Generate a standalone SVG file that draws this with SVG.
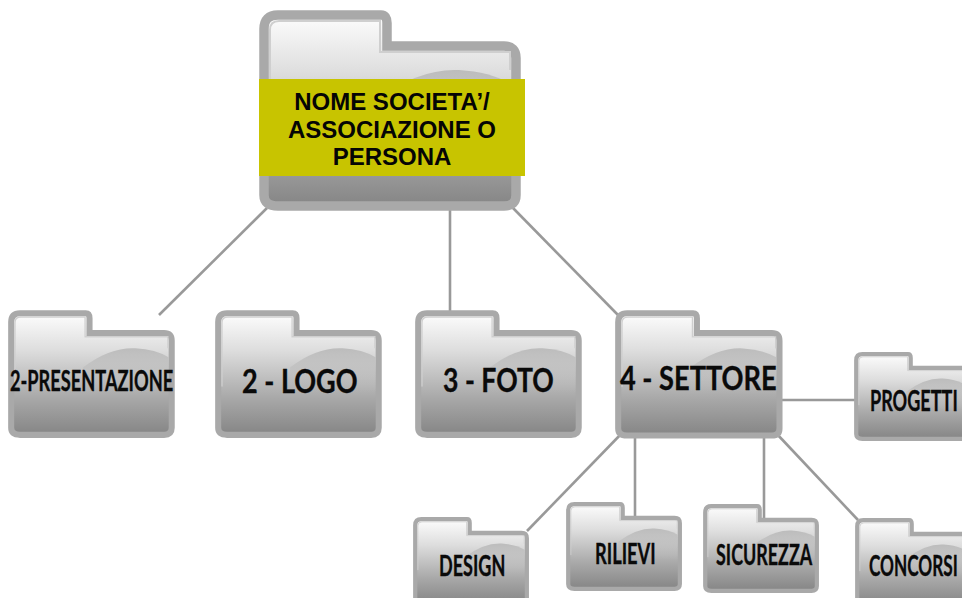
<svg xmlns="http://www.w3.org/2000/svg" width="962" height="598" viewBox="0 0 962 598">
<style>
.c{fill:none;stroke:#999;stroke-width:2.6}
.t{font-family:Lato,"Open Sans",sans-serif;font-weight:700;fill:#0a0a0a;stroke:#0a0a0a;stroke-width:.35}
.h{font-family:"Liberation Sans",Arial,sans-serif;font-weight:700;font-size:24px;fill:#050505;text-anchor:middle}
</style>
<defs>
<linearGradient id="g" x1="0" y1="0" x2="0" y2="1"><stop offset="0" stop-color="#fdfdfd"/><stop offset=".3" stop-color="#dedede"/><stop offset=".7" stop-color="#a8a8a8"/><stop offset="1" stop-color="#858585"/></linearGradient>
<linearGradient id="a" x1="0" y1="0" x2="0" y2="1"><stop offset="0" stop-color="#bcbcbc"/><stop offset="1" stop-color="#bcbcbc" stop-opacity="0"/></linearGradient>
<g id="folder">
<path d="M5,19Q5,5 19,5H122Q128,5 128,13V36H245Q257,36 257,48V185Q257,196 245,196H19Q5,196 5,185Z" fill="url(#g)" stroke="#a9a9a9" stroke-width="9.5"/>
<path d="M118,90Q160,58 200,60Q232,62 252,74V130H118Z" fill="url(#a)"/>
<path d="M11,20Q11,11 20,11H121V42H251V60M11,20V120" fill="none" stroke="#cfcfcf" stroke-width="2"/>
</g>
</defs>
<rect width="962" height="598" fill="#fff"/>
<g id="connectors">
<path class="c" d="M267,208L159,315"/>
<path class="c" d="M450,205V320"/>
<path class="c" d="M513,208L618,315"/>
<path class="c" d="M782,400H855"/>
<path class="c" d="M623,432L527,531"/>
<path class="c" d="M635,432V518"/>
<path class="c" d="M764,432V521"/>
<path class="c" d="M776,433L858,520"/>
</g>
<g id="root"><use href="#folder" transform="translate(259,10)"/><rect x="259" y="79" width="266" height="97" fill="#c8c400"/>
<text class="h" x="392" y="110">NOME SOCIETA’/</text><text class="h" x="392" y="138">ASSOCIAZIONE O</text><text class="h" x="392" y="165">PERSONA</text></g>
<g id="presentazione"><use href="#folder" transform="translate(8,310) scale(.637)"/><text class="t" transform="translate(10,391) scale(.63,1)" font-size="28" textLength="259" lengthAdjust="spacingAndGlyphs">2-PRESENTAZIONE</text></g>
<g id="logo"><use href="#folder" transform="translate(215,310) scale(.637)"/><text class="t" transform="translate(242,393) scale(.85,1)" font-size="33" textLength="136" lengthAdjust="spacingAndGlyphs">2 - LOGO</text></g>
<g id="foto"><use href="#folder" transform="translate(415,310) scale(.637)"/><text class="t" transform="translate(443,392) scale(.84,1)" font-size="33" textLength="132" lengthAdjust="spacingAndGlyphs">3 - FOTO</text></g>
<g id="settore"><use href="#folder" transform="translate(615,310) scale(.64)"/><text class="t" transform="translate(620,390) scale(.89,1)" font-size="32" textLength="176" lengthAdjust="spacingAndGlyphs">4 - SETTORE</text></g>
<g id="progetti"><use href="#folder" transform="translate(854,352) scale(.443)"/><text class="t" transform="translate(870,411) scale(.67,1)" font-size="28" textLength="131" lengthAdjust="spacingAndGlyphs">PROGETTI</text></g>
<g id="design"><use href="#folder" transform="translate(413,517) scale(.443)"/><text class="t" transform="translate(439,576) scale(.67,1)" font-size="28" textLength="99" lengthAdjust="spacingAndGlyphs">DESIGN</text></g>
<g id="rilievi"><use href="#folder" transform="translate(566,502) scale(.443)"/><text class="t" transform="translate(595,564) scale(.69,1)" font-size="28" textLength="88" lengthAdjust="spacingAndGlyphs">RILIEVI</text></g>
<g id="sicurezza"><use href="#folder" transform="translate(703,504) scale(.443)"/><text class="t" transform="translate(716,565) scale(.65,1)" font-size="28" textLength="148" lengthAdjust="spacingAndGlyphs">SICUREZZA</text></g>
<g id="concorsi"><use href="#folder" transform="translate(855,518) scale(.443)"/><text class="t" transform="translate(869,576) scale(.63,1)" font-size="28" textLength="141" lengthAdjust="spacingAndGlyphs">CONCORSI</text></g>
</svg>
